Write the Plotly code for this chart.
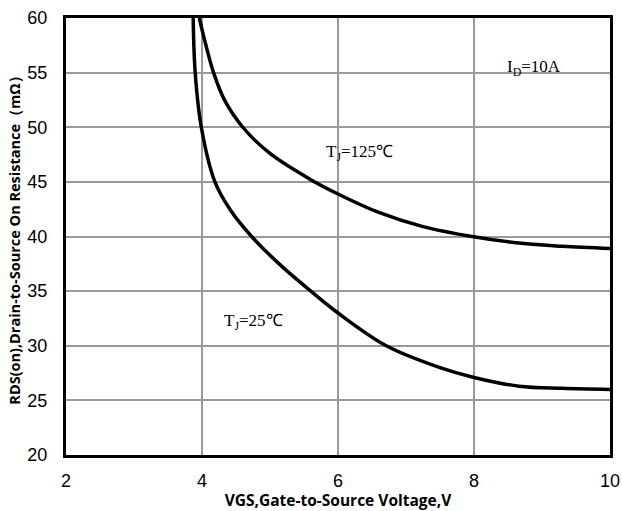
import plotly.graph_objects as go

vgs_25 = [3.87, 3.90, 3.99, 4.19, 4.42, 4.73, 5.15, 5.60, 6.00, 6.71, 7.50, 8.00, 8.66, 9.30, 10.0]
rds_25 = [60.0, 55.0, 50.0, 45.0, 42.4, 40.0, 37.4, 35.0, 33.0, 30.0, 28.0, 27.1, 26.3, 26.1, 26.0]

vgs_125 = [3.96, 4.05, 4.17, 4.33, 4.60, 5.00, 5.60, 6.03, 6.60, 7.25, 7.97, 8.66, 9.30, 10.0]
rds_125 = [60.0, 57.7, 55.0, 52.5, 50.0, 47.6, 45.2, 43.8, 42.2, 40.9, 40.0, 39.4, 39.1, 38.9]

x_ticks = [2, 4, 6, 8, 10]
y_ticks = [20, 25, 30, 35, 40, 45, 50, 55, 60]

fig = go.Figure()
for xs, ys in ((vgs_25, rds_25), (vgs_125, rds_125)):
    fig.add_trace(go.Scatter(x=xs, y=ys, mode="lines",
                             line=dict(color="black", width=3.5, shape="spline", smoothing=1.0),
                             showlegend=False, hoverinfo="skip"))

serif = dict(family="Liberation Serif, Times New Roman, serif", size=17, color="black")
fig.add_annotation(x=8.88, y=55.4, text="I<sub>D</sub>=10A", showarrow=False, font=serif)
fig.add_annotation(x=6.32, y=47.65, text="T<sub>J</sub>=125℃", showarrow=False, font=serif)
fig.add_annotation(x=4.76, y=32.2, text="T<sub>J</sub>=25℃", showarrow=False, font=serif)

fig.update_layout(
    width=622, height=511,
    margin=dict(l=66, r=12, t=18, b=56),
    plot_bgcolor="white", paper_bgcolor="white",
    font=dict(family="Liberation Sans, Arial, sans-serif", size=18, color="black"),
)
fig.update_xaxes(range=[2, 10], tickvals=x_ticks, showgrid=True, gridcolor="#999999", gridwidth=2,
                 showline=True, linecolor="black", linewidth=3, mirror=True, zeroline=False,
                 ticks="", ticklabelstandoff=7, automargin=False,
                 title=dict(text="<b>VGS,Gate-to-Source Voltage,V</b>",
                            font=dict(family="Open Sans, Liberation Sans, sans-serif", size=15.5),
                            standoff=2))
fig.update_yaxes(range=[20, 60], tickvals=y_ticks, showgrid=True, gridcolor="#999999", gridwidth=2,
                 showline=True, linecolor="black", linewidth=3, mirror=True, zeroline=False,
                 ticks="", ticklabelstandoff=12, automargin=False,
                 title=dict(text="<b>RDS(on),Drain-to-Source On Resistance（mΩ）</b>",
                            font=dict(family="Open Sans, Liberation Sans, sans-serif", size=14.5),
                            standoff=4))

fig.write_html("out.html", config={"displayModeBar": False},
               post_script="document.body.style.margin='0';")
